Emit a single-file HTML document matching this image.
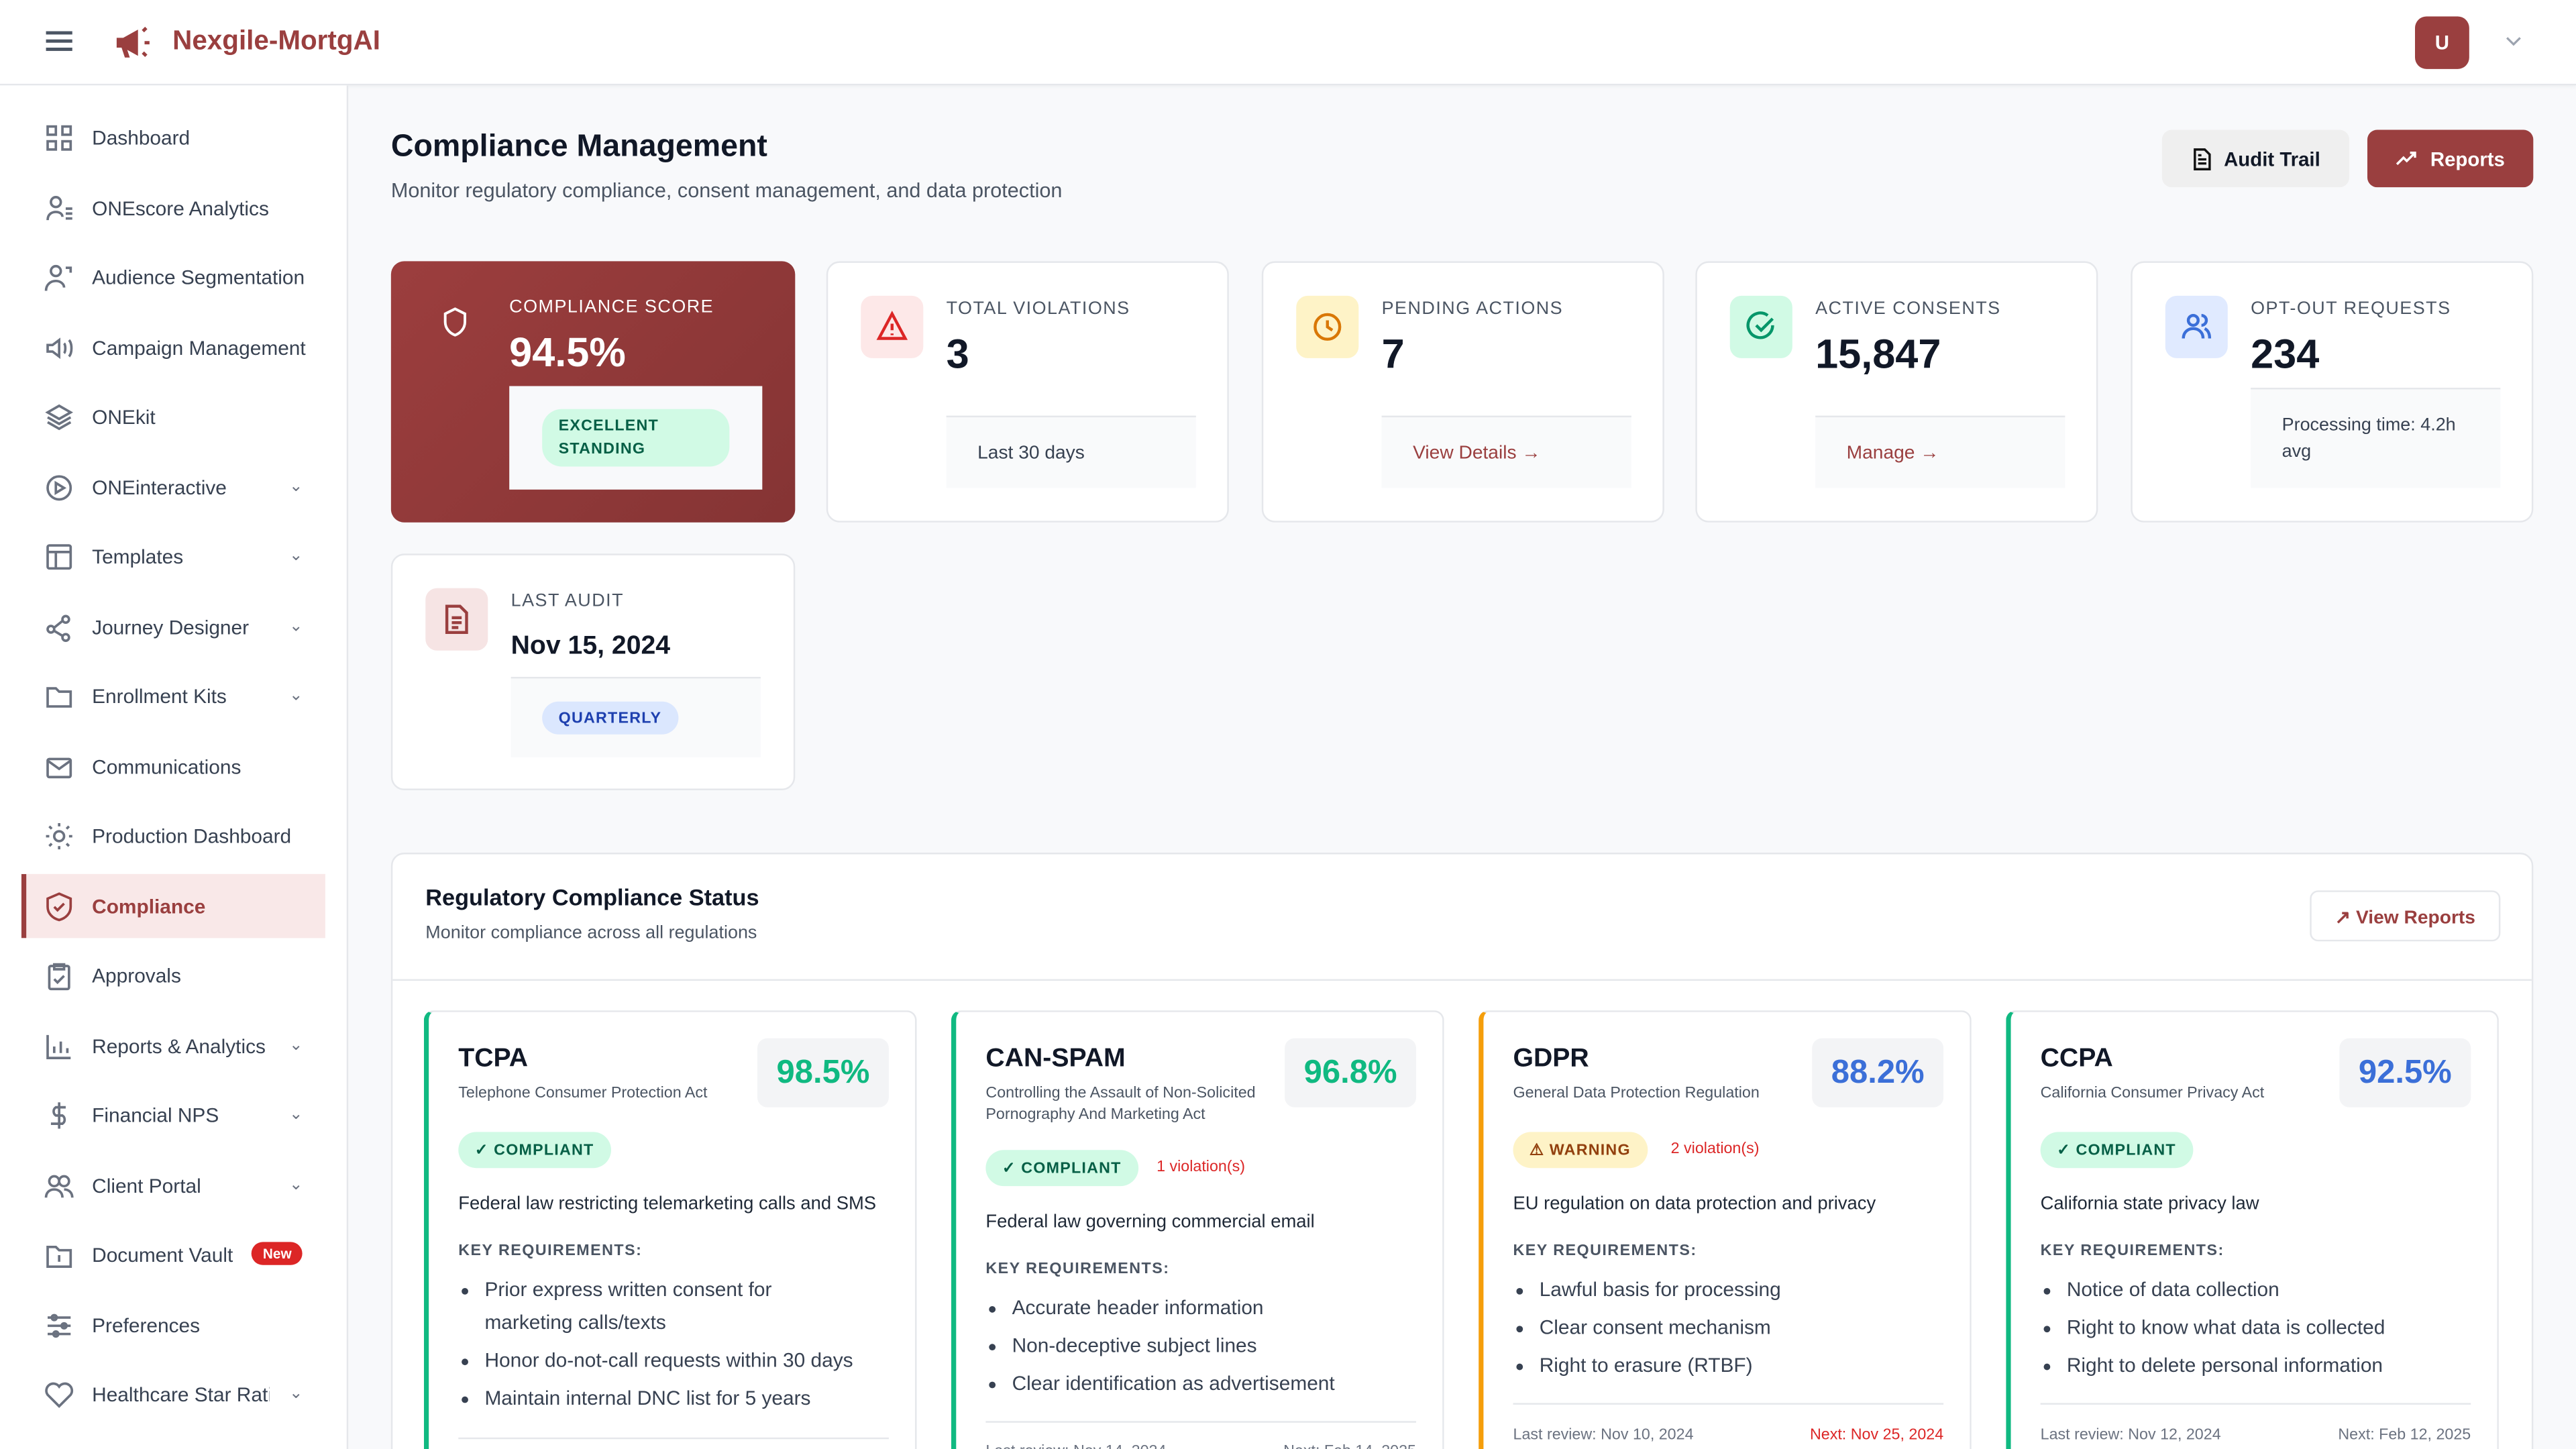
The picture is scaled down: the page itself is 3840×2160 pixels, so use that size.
<!DOCTYPE html>
<html><head><meta charset="utf-8"><style>
*{box-sizing:border-box;margin:0;padding:0}
html,body{width:3840px;height:2160px;overflow:hidden;background:#f8f9fb}
#w{position:absolute;left:0;top:0;width:1568px;height:882px;transform:scale(2.44898);transform-origin:0 0;font-family:"Liberation Sans",sans-serif;color:#111827;background:#f8f9fb;overflow:hidden}
.a{position:absolute}
.top{left:0;top:0;width:1568px;height:52px;background:#fff;border-bottom:1px solid #e5e7eb;box-shadow:0 1px 2px rgba(0,0,0,.04)}
.side{left:0;top:52px;width:212px;height:830px;background:#fff;border-right:1px solid #e5e7eb}
.ni{position:absolute;left:13px;width:185px;height:39px;font-size:12.2px;color:#374151;display:flex;align-items:center;padding-left:14px;white-space:nowrap;overflow:hidden}
.ni .t{max-width:131px;overflow:hidden;white-space:nowrap}
.ni svg{width:18px;height:18px;margin-right:11px;flex:none;stroke:#6b7280;fill:none;stroke-width:1.5}
.ni .cv{position:absolute;left:163px;font-size:10px;color:#6b7280}
.act{background:#f9e8e8;color:#9a3f3f;font-weight:bold}
.act svg{stroke:#9a3f3f}
.card{background:#fff;border:1px solid #e5e7eb;border-radius:8px}
.lbl{font-size:11px;letter-spacing:.6px;color:#4b5563}
.big{font-size:25px;font-weight:bold}
.ico{width:38px;height:38px;border-radius:7px;display:flex;align-items:center;justify-content:center}
.ico svg{width:20px;height:20px;fill:none;stroke-width:1.8}
.foot{background:#f9fafb;font-size:11.5px;color:#374151;padding:0 19px;display:flex;align-items:center}
.pill{border-radius:12px;font-size:9.5px;font-weight:bold;letter-spacing:.5px;display:inline-flex;align-items:center;padding:0 10px}
.rc{background:#fff;border:1px solid #e5e7eb;border-left:3px solid #10b981;border-radius:6px;width:300px;height:300px;padding:0 18px}
.rc h3{position:absolute;left:18px;top:20px;font-size:16px}
.rc .sub{position:absolute;left:18px;top:44px;font-size:9.5px;color:#4b5563;line-height:12.5px;width:180px}
.rc .sc{position:absolute;right:16px;top:16px;width:80px;height:42px;background:#f3f4f6;border-radius:6px;font-size:20px;font-weight:bold;display:flex;align-items:center;justify-content:center}
.rc .desc{position:absolute;left:18px;font-size:11.2px;color:#1f2937}
.rc .kr{position:absolute;left:18px;font-size:9.5px;font-weight:bold;color:#4b5563;letter-spacing:.6px}
.rc ul{position:absolute;left:34px;font-size:12.2px;color:#374151;line-height:23px;width:250px}
.rc ul li{line-height:19.5px;margin-bottom:3.5px}
.rc .ln{position:absolute;left:18px;right:16px;height:1px;background:#e5e7eb}
.rc .ft{position:absolute;left:18px;right:16px;font-size:9.5px;color:#6b7280;display:flex;justify-content:space-between}
</style></head><body><div id="w">
<div class="a top">
 <div class="a" style="left:28px;top:19px;width:16px;height:2px;background:#4b5563;box-shadow:0 5px 0 #4b5563,0 10px 0 #4b5563"></div>
 <svg class="a" style="left:69px;top:15px" width="24" height="22" viewBox="0 0 24 22"><path d="M2 8h4l9-5v16l-9-5H2z" fill="#9a3f3f"/><path d="M5 14l2 6h3l-2-6" fill="#9a3f3f"/><path d="M18 4l2-2M19 11h3M18 17l2 2" stroke="#9a3f3f" stroke-width="2"/></svg>
 <div class="a" style="left:105px;top:16px;font-size:16.5px;font-weight:bold;color:#9a3f3f">Nexgile-MortgAI</div>
 <div class="a" style="left:1470px;top:10px;width:33px;height:32px;border-radius:7px;background:#9a3f3f;color:#fff;font-size:12px;font-weight:bold;display:flex;align-items:center;justify-content:center">U</div>
 <svg class="a" style="left:1525px;top:22px" width="10" height="7" viewBox="0 0 10 7"><path d="M1 1l4 4 4-4" fill="none" stroke="#9ca3af" stroke-width="1.3"/></svg>
</div>
<div class="a side"></div>
<div class="ni" style="top:64px"><svg viewBox="0 0 18 18"><rect x="2" y="2" width="5" height="5"/><rect x="11" y="2" width="5" height="5"/><rect x="2" y="11" width="5" height="5"/><rect x="11" y="11" width="5" height="5"/></svg><span class="t">Dashboard</span></div>
<div class="ni" style="top:107px"><svg viewBox="0 0 18 18"><circle cx="7" cy="5" r="3"/><path d="M2 16c0-4 3-5 5-5s4 1 4 3M13 9h4M13 12h4M13 15h4"/></svg><span class="t">ONEscore Analytics</span></div>
<div class="ni" style="top:149px"><svg viewBox="0 0 18 18"><circle cx="7" cy="5" r="3"/><path d="M1 17c0-4 3-6 6-6s5 2 5 4M13 3h3v3"/></svg><span class="t">Audience Segmentation</span></div>
<div class="ni" style="top:192px"><svg viewBox="0 0 18 18"><path d="M2 7h3l4-3v10l-4-3H2zM12 6c1 1 1 5 0 6M15 4c2 2 2 8 0 10"/></svg><span class="t">Campaign Management</span></div>
<div class="ni" style="top:234px"><svg viewBox="0 0 18 18"><path d="M9 2l7 4-7 4-7-4zM2 9l7 4 7-4M2 12l7 4 7-4"/></svg><span class="t">ONEkit</span></div>
<div class="ni" style="top:277px"><svg viewBox="0 0 18 18"><circle cx="9" cy="9" r="7"/><path d="M7 6l5 3-5 3z"/></svg><span class="t">ONEinteractive</span><span class="cv">&#8964;</span></div>
<div class="ni" style="top:319px"><svg viewBox="0 0 18 18"><rect x="2" y="2" width="14" height="14" rx="1"/><path d="M2 6h14M7 6v10"/></svg><span class="t">Templates</span><span class="cv">&#8964;</span></div>
<div class="ni" style="top:362px"><svg viewBox="0 0 18 18"><circle cx="4" cy="10" r="2"/><circle cx="13" cy="4" r="2"/><circle cx="13" cy="15" r="2"/><path d="M6 9l5-4M6 11l5 3"/></svg><span class="t">Journey Designer</span><span class="cv">&#8964;</span></div>
<div class="ni" style="top:404px"><svg viewBox="0 0 18 18"><path d="M2 4h5l2 2h7v9H2z"/></svg><span class="t">Enrollment Kits</span><span class="cv">&#8964;</span></div>
<div class="ni" style="top:447px"><svg viewBox="0 0 18 18"><rect x="2" y="4" width="14" height="11" rx="1"/><path d="M2 5l7 5 7-5"/></svg><span class="t">Communications</span></div>
<div class="ni" style="top:489px"><svg viewBox="0 0 18 18"><circle cx="9" cy="9" r="3"/><path d="M9 1v2M9 15v2M1 9h2M15 9h2M3 3l1.5 1.5M13.5 13.5L15 15M3 15l1.5-1.5M13.5 4.5L15 3"/></svg><span class="t">Production Dashboard</span></div>
<div class="ni act" style="top:532px"><div class="a" style="left:0;top:0;width:3px;height:39px;background:#9a3f3f"></div><svg viewBox="0 0 18 18"><path d="M9 1l7 3v5c0 4-3 7-7 8-4-1-7-4-7-8V4z"/><path d="M6 9l2 2 4-4"/></svg><span class="t">Compliance</span></div>
<div class="ni" style="top:574px"><svg viewBox="0 0 18 18"><rect x="3" y="3" width="12" height="14" rx="1"/><path d="M6 2h6v3H6zM6 11l2 2 4-4"/></svg><span class="t">Approvals</span></div>
<div class="ni" style="top:617px"><svg viewBox="0 0 18 18"><path d="M2 2v14h14M6 13V9M10 13V6M14 13V10"/></svg><span class="t" style="max-width:109px">Reports &amp; Analytics</span><span class="cv">&#8964;</span></div>
<div class="ni" style="top:659px"><svg viewBox="0 0 18 18"><path d="M9 1v16M13 4H7a3 3 0 000 5h4a3 3 0 010 5H4"/></svg><span class="t">Financial NPS</span><span class="cv">&#8964;</span></div>
<div class="ni" style="top:702px"><svg viewBox="0 0 18 18"><circle cx="6" cy="6" r="3"/><circle cx="12" cy="6" r="3"/><path d="M1 16c0-3 2-5 5-5s5 2 5 5M12 11c3 0 5 2 5 5"/></svg><span class="t">Client Portal</span><span class="cv">&#8964;</span></div>
<div class="ni" style="top:744px"><svg viewBox="0 0 18 18"><path d="M2 4h5l2 2h7v10H2z"/><path d="M9 9v4"/></svg><span class="t" style="max-width:89px">Document Vault</span><span class="a" style="left:140px;top:12px;background:#dc2626;color:#fff;font-size:8.5px;font-weight:bold;border-radius:8px;padding:2px 7px">New</span></div>
<div class="ni" style="top:787px"><svg viewBox="0 0 18 18"><path d="M2 4h14M2 9h14M2 14h14"/><circle cx="6" cy="4" r="1.5"/><circle cx="12" cy="9" r="1.5"/><circle cx="7" cy="14" r="1.5"/></svg><span class="t">Preferences</span></div>
<div class="ni" style="top:829px"><svg viewBox="0 0 18 18"><path d="M9 16L2 9a4 4 0 017-5 4 4 0 017 5z"/></svg><span class="t" style="max-width:108px">Healthcare Star Rating</span><span class="cv">&#8964;</span></div>

<div class="a" style="left:238px;top:79px;font-size:19px;font-weight:bold">Compliance Management</div>
<div class="a" style="left:238px;top:109px;font-size:12.5px;color:#4b5563">Monitor regulatory compliance, consent management, and data protection</div>
<div class="a" style="left:1316px;top:79px;width:114px;height:35px;background:#efefef;border-radius:6px;font-size:12px;font-weight:bold;display:flex;align-items:center;justify-content:center"><svg width="13" height="14" viewBox="0 0 13 14" style="margin-right:7px"><path d="M2 1h6l3 3v9H2z M4 7h5M4 9.5h5M4 4.5h2" fill="none" stroke="#111" stroke-width="1.4"/></svg>Audit Trail</div>
<div class="a" style="left:1441px;top:79px;width:101px;height:35px;background:#9a3f3f;border-radius:6px;font-size:12px;font-weight:bold;color:#fff;display:flex;align-items:center;justify-content:center"><svg width="14" height="10" viewBox="0 0 14 10" style="margin-right:7px"><path d="M1 8l4-4 2 2 5-5M9 1h3v3" fill="none" stroke="#fff" stroke-width="1.4"/></svg>Reports</div>

<div class="a" style="left:238px;top:159px;width:246px;height:159px;border-radius:8px;background:linear-gradient(135deg,#9c3e3e,#853434)">
 <svg class="a" style="left:30px;top:27px" width="18" height="20" viewBox="0 0 18 20"><path d="M9 2l6 3v5c0 4-3 7-6 8-3-1-6-4-6-8V5z" fill="none" stroke="#fff" stroke-width="1.6"/></svg>
 <div class="a lbl" style="left:72px;top:22px;color:#fff">COMPLIANCE SCORE</div>
 <div class="a big" style="left:72px;top:42px;color:#fff">94.5%</div>
 <div class="a" style="left:72px;top:76px;width:154px;height:63px;background:#f8f9fb"><div class="a pill" style="left:20px;top:14px;height:35px;width:114px;background:#d1fae5;color:#065f46;line-height:14px;padding-left:10px">EXCELLENT<br>STANDING</div></div>
</div>

<div class="a card" style="left:503px;top:159px;width:245px;height:159px">
 <div class="a ico" style="left:20px;top:20px;background:#fde8e8"><svg viewBox="0 0 20 20" stroke="#dc2626"><path d="M10 2l8 15H2z M10 8v4M10 14v1"/></svg></div>
 <div class="a lbl" style="left:72px;top:22px">TOTAL VIOLATIONS</div><div class="a big" style="left:72px;top:42px">3</div>
 <div class="a foot" style="left:72px;top:93px;width:152px;height:44px;border-top:1px solid #e5e7eb">Last 30 days</div>
</div>
<div class="a card" style="left:768px;top:159px;width:245px;height:159px">
 <div class="a ico" style="left:20px;top:20px;background:#fef3c7"><svg viewBox="0 0 20 20" stroke="#d97706"><circle cx="10" cy="10" r="7.5"/><path d="M10 6v4l3 2"/></svg></div>
 <div class="a lbl" style="left:72px;top:22px">PENDING ACTIONS</div><div class="a big" style="left:72px;top:42px">7</div>
 <div class="a foot" style="left:72px;top:93px;width:152px;height:44px;border-top:1px solid #e5e7eb;color:#9a3f3f">View Details →</div>
</div>
<div class="a card" style="left:1032px;top:159px;width:245px;height:159px">
 <div class="a ico" style="left:20px;top:20px;background:#d1fae5"><svg viewBox="0 0 20 20" stroke="#059669"><path d="M17 9a7.5 7.5 0 11-3-6M7 9l3 3 7-7"/></svg></div>
 <div class="a lbl" style="left:72px;top:22px">ACTIVE CONSENTS</div><div class="a big" style="left:72px;top:42px">15,847</div>
 <div class="a foot" style="left:72px;top:93px;width:152px;height:44px;border-top:1px solid #e5e7eb;color:#9a3f3f">Manage →</div>
</div>
<div class="a card" style="left:1297px;top:159px;width:245px;height:159px">
 <div class="a ico" style="left:20px;top:20px;background:#e0eaff"><svg viewBox="0 0 20 20" stroke="#3b6fd8"><circle cx="8" cy="6" r="3"/><path d="M2 17c0-4 3-6 6-6s6 2 6 6M13 3a3 3 0 010 6M15 11c2 1 3 3 3 6"/></svg></div>
 <div class="a lbl" style="left:72px;top:22px">OPT-OUT REQUESTS</div><div class="a big" style="left:72px;top:42px">234</div>
 <div class="a foot" style="left:72px;top:76px;width:152px;height:61px;border-top:1px solid #e5e7eb;line-height:16px;font-size:11px">Processing time: 4.2h avg</div>
</div>
<div class="a card" style="left:238px;top:337px;width:246px;height:144px">
 <div class="a ico" style="left:20px;top:20px;background:#f6e4e4"><svg viewBox="0 0 20 20" stroke="#9a3f3f"><path d="M4 2h8l4 4v12H4zM7 9h6M7 12h6M7 15h4"/></svg></div>
 <div class="a lbl" style="left:72px;top:22px">LAST AUDIT</div><div class="a" style="left:72px;top:47px;font-size:16px;font-weight:bold">Nov 15, 2024</div>
 <div class="a foot" style="left:72px;top:74px;width:152px;height:49px;border-top:1px solid #e5e7eb"><span class="pill" style="background:#dbe7fe;color:#1e40af;height:20px">QUARTERLY</span></div>
</div>

<div class="a card" style="left:238px;top:519px;width:1304px;height:400px">
 <div class="a" style="left:20px;top:18px;font-size:14px;font-weight:bold">Regulatory Compliance Status</div>
 <div class="a" style="left:20px;top:42px;font-size:11px;color:#4b5563">Monitor compliance across all regulations</div>
 <div class="a" style="right:19px;top:22px;width:116px;height:31px;border:1px solid #e5e7eb;border-radius:5px;font-size:11.5px;font-weight:bold;color:#9a3f3f;display:flex;align-items:center;justify-content:center">↗ View Reports</div>
 <div class="a" style="left:0;right:0;top:76px;height:1px;background:#e5e7eb"></div>
</div>

<div class="a rc" style="left:258px;top:615px">
 <h3>TCPA</h3><div class="sub">Telephone Consumer Protection Act</div><div class="sc" style="color:#10b981">98.5%</div>
 <div class="a pill" style="left:18px;top:73px;height:22px;background:#d1fae5;color:#065f46">✓&nbsp;COMPLIANT</div>
 <div class="desc" style="top:111px">Federal law restricting telemarketing calls and SMS</div>
 <div class="kr" style="top:140px">KEY REQUIREMENTS:</div>
 <ul style="top:160px;width:215px"><li>Prior express written consent for marketing calls/texts</li><li style="white-space:nowrap">Honor do-not-call requests within 30 days</li><li style="white-space:nowrap">Maintain internal DNC list for 5 years</li></ul>
 <div class="ln" style="top:259px"></div>
</div>
<div class="a rc" style="left:579px;top:615px">
 <h3>CAN-SPAM</h3><div class="sub">Controlling the Assault of Non-Solicited Pornography And Marketing Act</div><div class="sc" style="color:#10b981">96.8%</div>
 <div class="a pill" style="left:18px;top:84px;height:22px;background:#d1fae5;color:#065f46">✓&nbsp;COMPLIANT</div>
 <div class="a" style="left:122px;top:89px;font-size:9.5px;color:#dc2626">1 violation(s)</div>
 <div class="desc" style="top:122px">Federal law governing commercial email</div>
 <div class="kr" style="top:151px">KEY REQUIREMENTS:</div>
 <ul style="top:171px"><li>Accurate header information</li><li>Non-deceptive subject lines</li><li>Clear identification as advertisement</li></ul>
 <div class="ln" style="top:249px"></div>
 <div class="ft" style="top:262px"><span>Last review: Nov 14, 2024</span><span>Next: Feb 14, 2025</span></div>
</div>
<div class="a rc" style="left:900px;top:615px;border-left-color:#f59e0b">
 <h3>GDPR</h3><div class="sub">General Data Protection Regulation</div><div class="sc" style="color:#3b6fd8">88.2%</div>
 <div class="a pill" style="left:18px;top:73px;height:22px;background:#fef3c7;color:#92400e">⚠&nbsp;WARNING</div>
 <div class="a" style="left:114px;top:78px;font-size:9.5px;color:#dc2626">2 violation(s)</div>
 <div class="desc" style="top:111px">EU regulation on data protection and privacy</div>
 <div class="kr" style="top:140px">KEY REQUIREMENTS:</div>
 <ul style="top:160px"><li>Lawful basis for processing</li><li>Clear consent mechanism</li><li>Right to erasure (RTBF)</li></ul>
 <div class="ln" style="top:238px"></div>
 <div class="ft" style="top:252px"><span>Last review: Nov 10, 2024</span><span style="color:#dc2626">Next: Nov 25, 2024</span></div>
</div>
<div class="a rc" style="left:1221px;top:615px">
 <h3>CCPA</h3><div class="sub">California Consumer Privacy Act</div><div class="sc" style="color:#3b6fd8">92.5%</div>
 <div class="a pill" style="left:18px;top:73px;height:22px;background:#d1fae5;color:#065f46">✓&nbsp;COMPLIANT</div>
 <div class="desc" style="top:111px">California state privacy law</div>
 <div class="kr" style="top:140px">KEY REQUIREMENTS:</div>
 <ul style="top:160px"><li>Notice of data collection</li><li>Right to know what data is collected</li><li>Right to delete personal information</li></ul>
 <div class="ln" style="top:238px"></div>
 <div class="ft" style="top:252px"><span>Last review: Nov 12, 2024</span><span>Next: Feb 12, 2025</span></div>
</div>
</div></body></html>
